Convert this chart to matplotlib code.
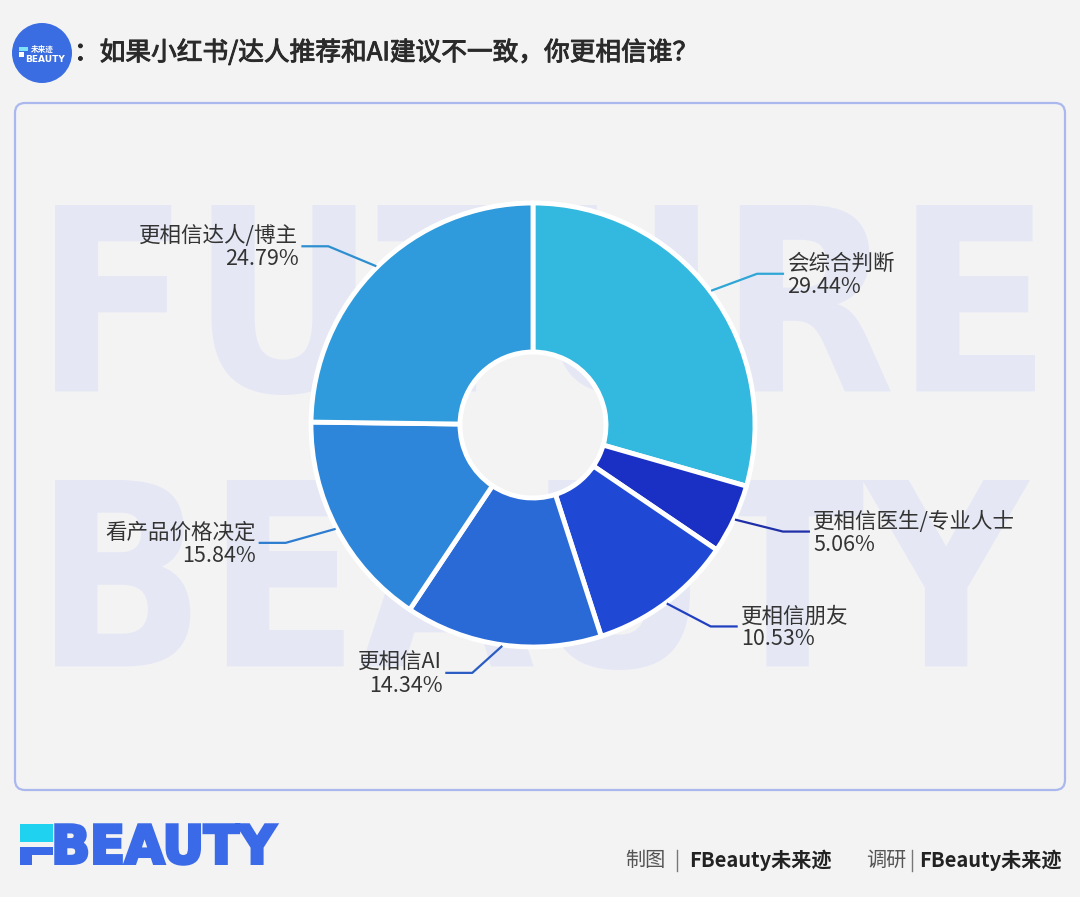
import matplotlib
matplotlib.use("Agg")
import numpy as np
import matplotlib.pyplot as plt
import matplotlib.patheffects as pe
from matplotlib.patches import FancyBboxPatch, Circle, Rectangle, PathPatch
from matplotlib.textpath import TextPath
from matplotlib.font_manager import FontProperties
from matplotlib.transforms import Affine2D

plt.rcParams['font.family'] = ['Noto Sans CJK SC', 'DejaVu Sans']

# data
labels = ['会综合判断', '更相信医生/专业人士', '更相信朋友', '更相信AI', '看产品价格决定', '更相信达人/博主']
values = [29.44, 5.06, 10.53, 14.34, 15.84, 24.79]
colors = ['#33b8df', '#1a2fc4', '#1f48d4', '#2a6ad6', '#2e86da', '#2f9bdc']
line_colors = ['#2fa6d6', '#1f2fa8', '#2140c0', '#2a5cc4', '#2c7ccf', '#2d8fd0']
title = '：如果小红书/达人推荐和AI建议不一致，你更相信谁？'

# label layout (pixel offsets of the leader-line elbow from the slice edge)
elbow_dx = [46, 48, 44, -30, -50, -48]
elbow_dy = [-17, 12, 23, 27, 14, -20]

W, H = 1080, 897
fig = plt.figure(figsize=(W / 100, H / 100), dpi=100)
fig.patch.set_facecolor('#f3f3f3')
ax = fig.add_axes([0, 0, 1, 1])


def Y(y):
    return H - y


def fit_text(s, x0, y0, x1, y1, color, weight='bold', family='DejaVu Sans', z=1, lw=0):
    tp = TextPath((0, 0), s, size=100, prop=FontProperties(family=family, weight=weight))
    bb = tp.get_extents()
    sx = (x1 - x0) / bb.width
    sy = (y1 - y0) / bb.height
    tr = Affine2D().translate(-bb.x0, -bb.y0).scale(sx, sy).translate(x0, Y(y1))
    ax.add_patch(PathPatch(tr.transform_path(tp), fc=color, ec=color if lw else 'none',
                           lw=lw, zorder=z))


# panel
ax.add_patch(FancyBboxPatch((15, Y(790)), 1050, 687, boxstyle='round,pad=0,rounding_size=10',
                            fc='#f3f3f4', ec='#aab8ee', lw=1.6, zorder=0))

# watermark
fit_text('FUTURE', 55, 205, 1035, 395, '#e5e8f4', z=0.5)
fit_text('BEAUTY', 55, 480, 1030, 670, '#e5e8f4', z=0.5)

# donut
cx, cy, R, r_in = 533, 425, 222, 73
wedges, _ = ax.pie(values, colors=colors, startangle=90, counterclock=False,
                   radius=R, center=(cx, Y(cy)),
                   wedgeprops=dict(width=R - r_in, edgecolor='white', linewidth=3.5,
                                   joinstyle='round'))
for w, lab, v, lc, dx, dy in zip(wedges, labels, values, line_colors, elbow_dx, elbow_dy):
    ang = np.deg2rad((w.theta1 + w.theta2) / 2)
    sx = cx + (R + 1) * np.cos(ang)
    sy = cy - (R + 1) * np.sin(ang)
    ex, ey = sx + dx, sy + dy
    side = 1 if dx > 0 else -1
    hx = ex + side * 27
    ax.plot([sx, ex, hx], [Y(sy), Y(ey), Y(ey)], color=lc, lw=1.6, zorder=3,
            solid_capstyle='butt')
    ha = 'left' if side > 0 else 'right'
    tx = hx + side * 3
    ax.text(tx, Y(ey - 10), lab, ha=ha, va='center', fontsize=15.5, color='#333333', zorder=4)
    ax.text(tx, Y(ey + 13), f'{v:.2f}%', ha=ha, va='center', fontsize=15.5, color='#333333',
            zorder=4)

# header logo + title
ax.add_patch(Circle((42, Y(53)), 30, fc='#3b6de2', ec='none', zorder=2))
ax.add_patch(Rectangle((19, Y(51)), 9, 4, fc='#7fe3f7', ec='none', zorder=3))
ax.add_patch(Rectangle((19, Y(57)), 5, 5, fc='white', ec='none', zorder=3))
ax.text(31, Y(49), '未来迹', fontsize=5.5, color='white', ha='left', va='center',
        weight='bold', zorder=3)
ax.text(25, Y(59), 'BEAUTY', fontsize=6.5, color='white', ha='left', va='center',
        weight='bold', family='DejaVu Sans', zorder=3)
ax.text(74, Y(53), title, fontsize=18.5, color='#2a2a2a', ha='left', va='center',
        path_effects=[pe.withStroke(linewidth=0.7, foreground='#2a2a2a')])

# footer logo
ax.add_patch(Rectangle((20, Y(842)), 33, 18, fc='#1fd3f0', ec='none'))
ax.add_patch(Rectangle((20, Y(855)), 33, 8, fc='#3a6ae8', ec='none'))
ax.add_patch(Rectangle((20, Y(865)), 12, 10, fc='#3a6ae8', ec='none'))
fit_text('BEAUTY', 56, 825, 276, 864, '#3a6ae8', lw=2.5)

# footer credits
fy = Y(860)
ax.text(625, fy, '制图', fontsize=14.5, color='#555555', ha='left', va='center')
ax.plot([677, 677], [Y(850), Y(871)], color='#777777', lw=1)
ax.text(689, fy, 'FBeauty未来迹', fontsize=14.5, color='#222222', ha='left', va='center',
        weight='bold')
ax.text(866, fy, '调研', fontsize=14.5, color='#555555', ha='left', va='center')
ax.plot([912, 912], [Y(850), Y(871)], color='#777777', lw=1)
ax.text(919, fy, 'FBeauty未来迹', fontsize=14.5, color='#222222', ha='left', va='center',
        weight='bold')

ax.set_xlim(0, W)
ax.set_ylim(0, H)
ax.set_aspect('auto')
ax.axis('off')
fig.savefig('out.png', dpi=100, facecolor=fig.get_facecolor())
